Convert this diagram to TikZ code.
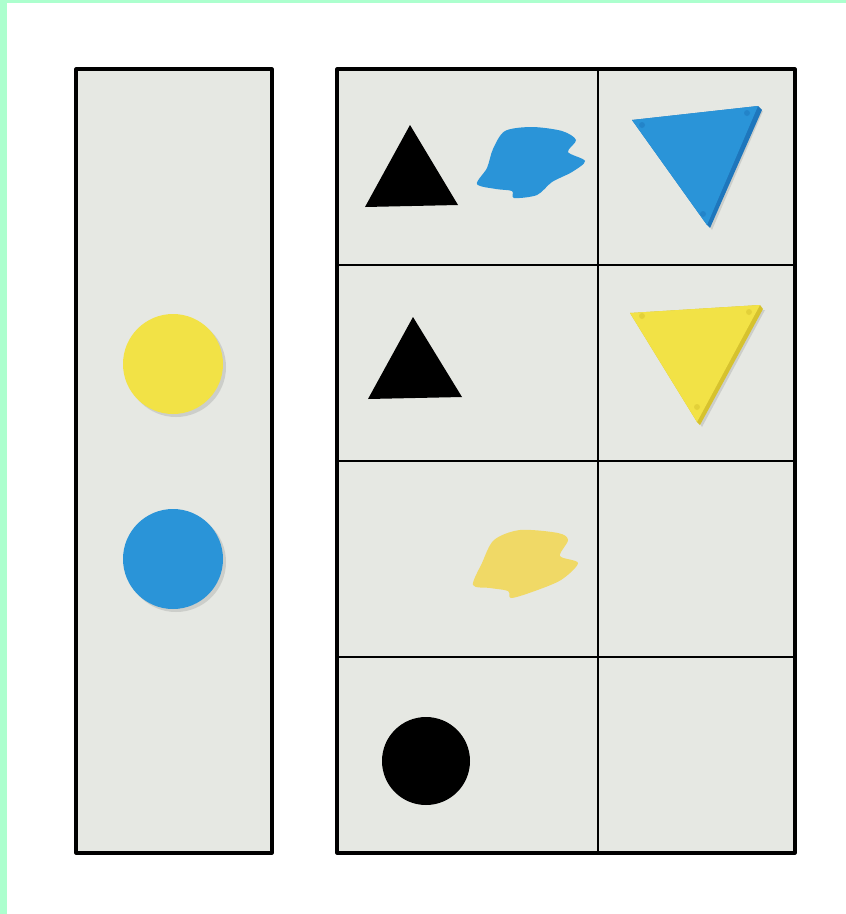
\documentclass[tikz,border=0pt]{standalone}
\usetikzlibrary{positioning}
\definecolor{colMint}{RGB}{172,255,206}
\definecolor{colCell}{RGB}{230,232,227}
\definecolor{colBlue}{RGB}{42,148,216}
\definecolor{colBlueDark}{RGB}{30,118,188}
\definecolor{colYellow}{RGB}{242,226,70}
\definecolor{colYellowDark}{RGB}{214,194,46}
\definecolor{colPale}{RGB}{240,217,102}
\definecolor{colShade}{RGB}{204,206,202}

\begin{document}
\begin{tikzpicture}[x=0.1mm, y=-0.1mm,
    every node/.style={inner sep=0pt, outer sep=0pt},
    cell/.style={draw, fill=colCell, line width=0.6pt, minimum height=19.6mm, anchor=north west},
    wide/.style={cell, minimum width=26.1mm},
    narrow/.style={cell, minimum width=19.7mm},
    frame/.style={draw, line width=0.9pt, line join=round},
    disc/.style={circle, minimum size=10mm},
    pin/.style={fill=#1, opacity=0.5}
]
    \useasboundingbox (0,0) rectangle (846,914);
    \fill[white] (0,0) rectangle (846,914);
    % mint border strips
    \fill[colMint] (0,0) rectangle (7,914);
    \fill[colMint] (0,0) rectangle (846,3);

    % left column
    \node[cell, fill=colCell, minimum width=19.6mm, minimum height=78.4mm, frame] (side) at (76,69) {};

    % grid, 4 rows x 2 columns
    \node[wide]   (c11) at (337,69)  {};
    \node[narrow] (c12) at (598,69)  {};
    \node[wide]   (c21) at (337,265) {};
    \node[narrow] (c22) at (598,265) {};
    \node[wide]   (c31) at (337,461) {};
    \node[narrow] (c32) at (598,461) {};
    \node[wide]   (c41) at (337,657) {};
    \node[narrow] (c42) at (598,657) {};
    \draw[frame] (c11.north west) rectangle (c42.south east);

    % counters in the left column
    \fill[colShade] (176,367) circle (50);
    \node[disc, fill=colYellow] (ydisc) at (173,364) {};
    \fill[colShade] (176,562) circle (50);
    \node[disc, fill=colBlue] (bdisc) at (173,559) {};

    % row 1: black triangle + blue blob | blue triangle
    \fill[black] (410,125) -- (365,207) -- (458,205) -- cycle;
    \fill[colBlue] plot[smooth cycle, tension=0.5] coordinates {
        (505,131) (532,127) (562,131) (576,140) (568,152) (585,161)
        (572,172) (552,182) (537,195) (514,198) (512,191) (496,189)
        (477,184) (487,168) (493,149)};
    \fill[colShade] (637,125) -- (763,111) -- (712,230) -- cycle;
    \fill[colBlueDark] (632,120) -- (758,106) -- (762,110) -- (710,228) -- (707,225) -- cycle;
    \fill[colBlue] (632,120) -- (758,106) -- (707,225) -- cycle;
    \fill[pin=colBlueDark] (642,125) circle (3) (747,113) circle (3) (703,214) circle (3);

    % row 2: black triangle | yellow triangle
    \fill[black] (413,317) -- (368,399) -- (462,397) -- cycle;
    \fill[colShade] (635,318) -- (765,310) -- (702,427) -- cycle;
    \fill[colYellowDark] (630,313) -- (760,305) -- (763,309) -- (700,425) -- (697,422) -- cycle;
    \fill[colYellow] (630,313) -- (760,305) -- (697,422) -- cycle;
    \fill[pin=colYellowDark] (642,316) circle (3) (749,312) circle (3) (697,407) circle (3);

    % row 3: pale yellow blob
    \fill[colPale] plot[smooth cycle, tension=0.5] coordinates {
        (494,540) (520,530) (558,533) (568,540) (560,556) (578,563)
        (561,580) (532,592) (511,598) (508,591) (490,588) (473,585)
        (482,563)};

    % row 4: black circle
    \node[circle, fill=black, minimum size=8.8mm] (bcirc) at (426,761) {};
\end{tikzpicture}
\end{document}
